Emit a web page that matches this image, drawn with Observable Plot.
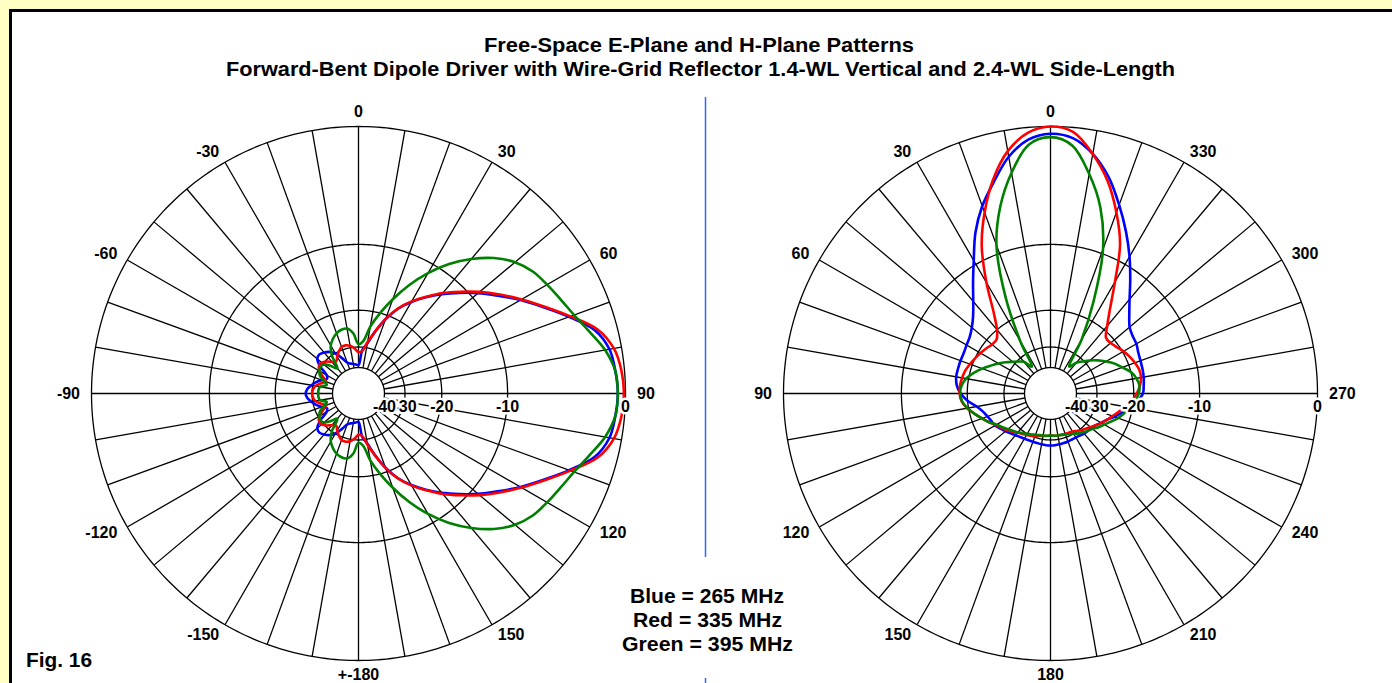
<!DOCTYPE html>
<html><head><meta charset="utf-8">
<script src="https://cdn.jsdelivr.net/npm/d3@7"></script>
<script src="https://cdn.jsdelivr.net/npm/@observablehq/plot@0.6"></script>
<style>
html,body{margin:0;padding:0;width:1392px;height:683px;overflow:hidden;background:#ffffc4;font-family:"Liberation Sans",Arial,sans-serif;}
#frame{position:absolute;left:9px;top:9px;width:1420px;height:720px;border:3px solid #000;background:#fff;}
.chart{position:absolute;top:90px;}
#overlay{position:absolute;left:0;top:0;pointer-events:none;}
</style></head><body>
<div id="frame"></div>
<div id="left" class="chart" style="left:20px"></div>
<div id="right" class="chart" style="left:712px"></div>
<svg id="overlay" width="1392" height="683"></svg>
<script>
// ---------- data ----------
const titleLines = ["Free-Space E-Plane and H-Plane Patterns",
  "Forward-Bent Dipole Driver with Wire-Grid Reflector 1.4-WL Vertical and 2.4-WL Side-Length"];
const legendLines = ["Blue = 265 MHz", "Red = 335 MHz", "Green = 395 MHz"];
const figLabel = "Fig. 16";
const seriesNames = ["Blue", "Red", "Green"];
const seriesColors = ["#0000ff", "#ff0000", "#008000"];

// pattern sample angles (degrees)
const patternAngles = [0,5,10,15,20,25,30,35,40,45,50,55,60,65,70,75,80,85,90,95,100,105,110,115,120,125,130,135,140,145,150,155,160,165,170,175,180,185,190,195,200,205,210,215,220,225,230,235,240,245,250,255,260,265,270,275,280,285,290,295,300,305,310,315,320,325,330,335,340,345,350,355];

// E-plane (angle clockwise from top), dB
const eBlue = [-38.5,-31,-28.5,-24.5,-20.9,-18.0,-15.9,-14.1,-12.4,-10.8,-9.2,-7.7,-6.1,-4.6,-3.0,-1.5,-0.8,-0.6,-0.5,-0.6,-0.8,-1.5,-3.0,-4.6,-6.1,-7.7,-9.2,-10.8,-12.4,-14.1,-15.9,-18.0,-20.9,-24.5,-28.5,-31,-38.5,
  -38,-37.5,-37,-36,-33,-30,-28.5,-27.6,-27,-27.5,-30,-34,-35,-33,-31,-29.5,-28.3,-27.8,-28.3,-29.5,-31,-33,-35,-34,-30,-27.5,-27,-27.6,-28.5,-30,-33,-36,-37,-37.5,-38];
const eRed = [-32,-31.5,-28,-24.5,-20.8,-17.9,-15.8,-14.0,-12.2,-10.6,-9.0,-7.5,-6.0,-4.5,-2.9,-1.3,-0.5,-0.2,-0.1,-0.2,-0.5,-1.3,-2.9,-4.5,-6.0,-7.5,-9.0,-10.6,-12.2,-14.0,-15.8,-17.9,-20.8,-24.5,-28,-31.5,-32,
  -30.5,-29.3,-28.8,-28.9,-30,-31.5,-33,-32,-30.5,-29.5,-29.4,-30.5,-33,-35,-33,-31,-30.3,-30,-30.3,-31,-33,-35,-33,-30.5,-29.4,-29.5,-30.5,-32,-33,-31.5,-30,-28.9,-28.8,-29.3,-30.5];
const eGreen = [-29,-28,-23.5,-20,-16.8,-13.8,-11.2,-9.0,-7.2,-5.7,-4.6,-3.9,-3.5,-3.1,-2.6,-1.9,-1.1,-0.6,-0.5,-0.6,-1.1,-1.9,-2.6,-3.1,-3.5,-3.9,-4.6,-5.7,-7.2,-9.0,-11.2,-13.8,-16.8,-20,-23.5,-28,-29,
  -25.5,-24,-24,-24.5,-25.5,-27,-30,-36,-33,-30.5,-30,-30.5,-31.5,-34,-36,-33,-32.5,-32.5,-32.5,-33,-36,-34,-31.5,-30.5,-30,-30.5,-33,-36,-30,-27,-25.5,-24.5,-24,-24,-25.5];

// H-plane (angle counter-clockwise from top), dB
const hBlue = [-0.47,-0.8,-1.8,-3.4,-5.0,-7.0,-9.5,-11.7,-13.7,-15.3,-16.4,-17.1,-17.4,-17.6,-17.6,-17.6,-17.6,-17.9,-18.7,-20,-21.8,-23,-23.7,-24.2,-24.5,-25.3,-26,-26.7,-27.3,-27.7,-28,-28.2,-28.3,-28.3,-28.2,-28.1,-28.1,
  -28.1,-28.2,-28.3,-28.4,-28.5,-28.5,-28.3,-28,-27.8,-27.6,-27,-26,-25,-23.5,-22,-20.5,-19.2,-18.2,-18.0,-17.8,-17.7,-17.6,-17.4,-17.0,-16.8,-16.3,-15.0,-13.3,-11.2,-9.0,-6.9,-4.9,-3.0,-1.6,-0.7];
const hRed = [0,-0.35,-1.4,-3.2,-5.6,-8.5,-12.6,-17,-20,-21.5,-21.5,-21,-20.5,-20,-19.5,-19,-18.7,-18.5,-18.5,-18.8,-19.7,-21,-22.3,-23.5,-24.8,-25.7,-26.5,-27.4,-28.3,-29,-29.5,-30,-30.5,-31,-31.3,-31.5,-31.7,
  -31.6,-31.5,-31.4,-31.3,-31.2,-31,-30.3,-29.5,-28.8,-28,-27,-26,-25,-24,-22.8,-21.5,-20.3,-19.4,-18.7,-18.3,-18.3,-18.7,-19.2,-19.8,-20.5,-21,-21,-19,-16.2,-12.5,-8.3,-5.6,-3.3,-1.6,-0.3];
const hGreen = [-0.7,-1.15,-3.0,-5.5,-9.0,-15.8,-25.5,-36,-32,-30.5,-29,-27.3,-25.6,-24,-22.3,-20.8,-19.5,-18.8,-18.6,-18.9,-19.8,-21,-22.3,-23.5,-25,-26,-27,-27.8,-28.5,-29.3,-30,-30.5,-31,-31.3,-31.5,-31.6,-31.7,
  -31.6,-31.5,-31.4,-31.2,-30.6,-30,-29.2,-28.5,-27.8,-27.1,-26,-25,-23.8,-22.5,-21.5,-20.5,-19.6,-19,-18.8,-19.2,-20,-21.5,-22.8,-24.5,-26.3,-28.3,-30.5,-32.5,-36,-25,-16.5,-9.5,-5.6,-3.1,-1.2];

// grid
const ringDb = [0, -10, -20, -30, -40];
const ringLabels = ["0", "-10", "-20", "-30", "-40"];
const spokeAngles = [0,10,20,30,40,50,60,70,80,90,100,110,120,130,140,150,160,170,180,190,200,210,220,230,240,250,260,270,280,290,300,310,320,330,340,350];
const tickAngles = [0,30,60,90,120,150,180,210,240,270,300,330];
const eTickLabels = ["0","30","60","90","120","150","+-180","-150","-120","-90","-60","-30"];
const hTickLabels = ["0","30","60","90","120","150","180","210","240","270","300","330"];

// ---------- drawing ----------
const R = 267, W = 680, H = 593, CX = 338, CY = 303;
const rho = db => Math.pow(0.89, -Math.max(db, -40) / 2);   // ARRL log-periodic scale
const rad = d => d * Math.PI / 180;
const FONT = "Liberation Sans, Arial, sans-serif";

function polar(el, seriesVals, tickLabels, sign, dbAngle) {
  const px = (a, r) => sign * r * Math.sin(rad(a));
  const py = (a, r) => r * Math.cos(rad(a));
  const curves = [];
  seriesNames.forEach((name, k) => {
    const vals = seriesVals[k];
    patternAngles.forEach((a, i) => curves.push({name, x: px(a, rho(vals[i])), y: py(a, rho(vals[i]))}));
  });
  const rings = [];
  ringDb.forEach(db => { for (let a = 0; a <= 360; a += 1) rings.push({db, x: px(a, rho(db)), y: py(a, rho(db))}); });
  const spokes = spokeAngles.map(a => ({x1: px(a, rho(-40)), y1: py(a, rho(-40)), x2: px(a, 1), y2: py(a, 1)}));
  const ticks = tickAngles.map((a, i) => ({a, label: tickLabels[i], s: sign * Math.sin(rad(a))}));
  const mid = ticks.filter(t => Math.abs(t.s) < 0.01).map(t => ({...t, x: px(t.a, 1.053), y: py(t.a, 1.053)}));
  const st = ticks.filter(t => t.s >= 0.01).map(t => ({...t, x: px(t.a, 1.043), y: py(t.a, 1.043)}));
  const en = ticks.filter(t => t.s <= -0.01).map(t => ({...t, x: px(t.a, 1.043), y: py(t.a, 1.043)}));
  const dbl = ringDb.map((db, i) => ({label: ringLabels[i], x: px(dbAngle, rho(db)), y: 0}));
  const textOpts = {x: "x", y: "y", text: "label", fontSize: 16, fontWeight: "bold", fontFamily: FONT, fill: "#000"};
  const plot = Plot.plot({
    width: W, height: H, margin: 0,
    x: {domain: [-1, 1], range: [CX - R, CX + R], axis: null},
    y: {domain: [-1, 1], range: [CY + R, CY - R], axis: null},
    color: {domain: seriesNames, range: seriesColors},
    style: {background: "transparent", overflow: "visible", fontFamily: FONT},
    marks: [
      Plot.line(rings, {x: "x", y: "y", z: "db", stroke: "#000", strokeWidth: 1.3}),
      Plot.link(spokes, {x1: "x1", y1: "y1", x2: "x2", y2: "y2", stroke: "#000", strokeWidth: 1.3}),
      Plot.line(curves, {x: "x", y: "y", z: "name", stroke: "name", strokeWidth: 2.6, strokeLinejoin: "round", curve: "catmull-rom-closed"}),
      Plot.text(dbl, {...textOpts, dy: 13, stroke: "#fff", strokeWidth: 5, paintOrder: "stroke"}),
      Plot.text(mid, {...textOpts, textAnchor: "middle"}),
      Plot.text(st, {...textOpts, textAnchor: "start"}),
      Plot.text(en, {...textOpts, textAnchor: "end"})
    ]
  });
  document.getElementById(el).appendChild(plot);
}

polar("left", [eBlue, eRed, eGreen], eTickLabels, 1, 90);
polar("right", [hBlue, hRed, hGreen], hTickLabels, -1, 270);

// ---------- titles, legend, divider ----------
const ov = d3.select("#overlay");
ov.append("line").attr("x1", 705.5).attr("x2", 705.5).attr("y1", 97).attr("y2", 557).attr("stroke", "#3366ff").attr("stroke-width", 1.5);
ov.append("line").attr("x1", 705.5).attr("x2", 705.5).attr("y1", 678).attr("y2", 690).attr("stroke", "#3366ff").attr("stroke-width", 1.5);
function txt(s, x, y, anchor, target) {
  const t = ov.append("text").attr("x", x).attr("y", y).attr("text-anchor", anchor)
    .attr("font-family", FONT).attr("font-weight", "bold").attr("font-size", 21).attr("fill", "#000").text(s);
  if (target) t.attr("textLength", target).attr("lengthAdjust", "spacingAndGlyphs");
}
txt(titleLines[0], 699, 52, "middle", 430);
txt(titleLines[1], 700.5, 76, "middle", 949);
txt(legendLines[0], 707, 602.5, "middle", 154);
txt(legendLines[1], 707.5, 626.5, "middle", 149);
txt(legendLines[2], 707.5, 650.5, "middle", 171);
txt(figLabel, 26, 667, "start", 66);
</script>
</body></html>
